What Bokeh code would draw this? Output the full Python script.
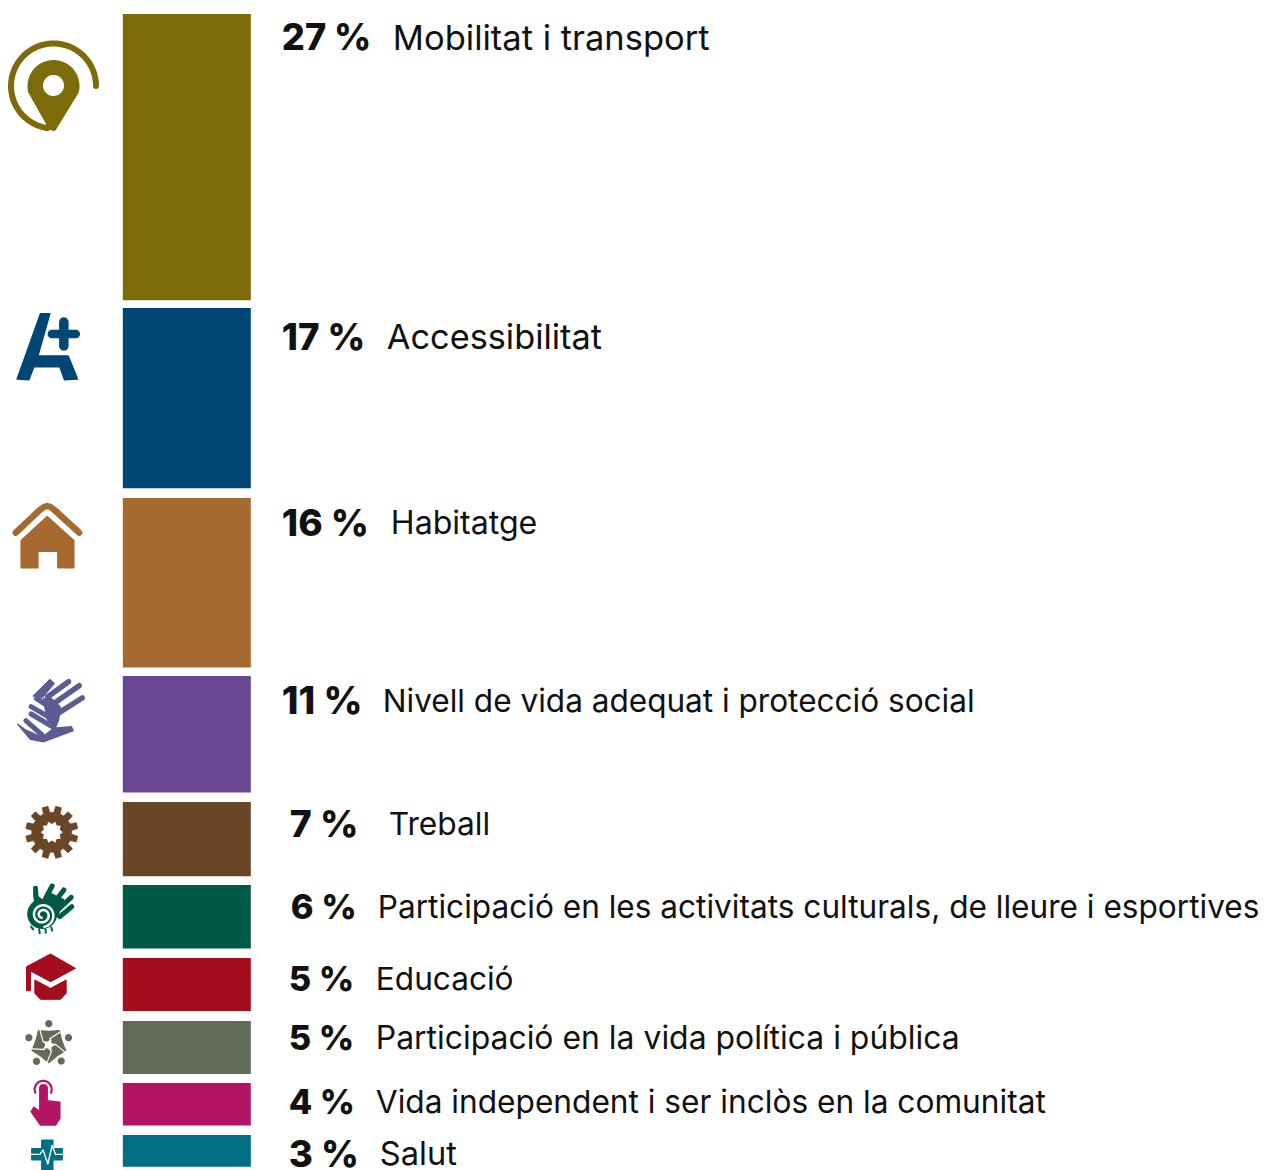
import numpy as np
from bokeh.plotting import figure
from bokeh.models import Range1d
from bokeh.core.properties import value
from bokeh.embed import file_html
from bokeh.resources import INLINE

# ---- data ----
categories = ["Mobilitat i transport", "Accessibilitat", "Habitatge",
              "Nivell de vida adequat i protecció social", "Treball",
              "Participació en les activitats culturals, de lleure i esportives",
              "Educació", "Participació en la vida política i pública",
              "Vida independent i ser inclòs en la comunitat", "Salut"]
percent = [27, 17, 16, 11, 7, 6, 5, 5, 4, 3]
colors = ["#7C6B08", "#004675", "#A66A30", "#6A4792", "#684626",
          "#005847", "#A30D1E", "#646A58", "#B31564", "#006F84"]

# ---- layout (pixels of the picture) ----
W, H = 1270, 1170
PX_PER_PCT = 10.6
BAR_TOP = [14, 308, 498, 676, 802, 885, 958, 1021, 1083, 1135]
BAR_L, BAR_R = 123, 251
PCT_X = [282, 282, 282, 282, 290, 291, 289, 289, 289, 289]
LAB_X = [393, 387, 391, 383, 389, 378, 376, 376, 376, 380]
BASE_Y = [50, 349, 535, 713, 836, 919, 991, 1050, 1114, 1166]
TEXT_DY = -13
PCT_SIZE = [36.2, 36.7, 37, 37.9, 37.4, 34.5, 34.5, 34.5, 34.2, 36.8]
LAB_SIZE = [34.5, 34.3, 32.1, 31.55, 31.7, 31.6, 31.6, 31.9, 31.65, 32.6]
FONT = "Inter"
IDX = 0.7  # icons' small horizontal nudge

p = figure(width=W, height=H, output_backend="svg", toolbar_location=None,
           x_range=Range1d(0.7, W + 0.7), y_range=Range1d(H + 0.5, 0.5),
           min_border=0, outline_line_color=None, background_fill_color="white")
p.axis.visible = False
p.grid.visible = False

# bars
bottoms = [t + v * PX_PER_PCT for t, v in zip(BAR_TOP, percent)]
p.quad(left=BAR_L, right=BAR_R, top=BAR_TOP, bottom=bottoms, fill_color=colors, line_color=None)

# texts
for i, v in enumerate(percent):
    p.text(x=[PCT_X[i]], y=[BASE_Y[i] + TEXT_DY], text=[f"{v} %"], text_font=value("Inter ExtraBold"),
           text_font_size=f"{PCT_SIZE[i]}px", text_font_style="bold", text_color="#111111",
           text_baseline="alphabetic", text_align="left")
    p.text(x=[LAB_X[i]], y=[BASE_Y[i] + TEXT_DY], text=[categories[i]], text_font=value(FONT),
           text_font_size=f"{LAB_SIZE[i]}px", text_font_style="normal", text_color="#111111",
           text_baseline="alphabetic", text_align="left")


def Z(pts, oy=0):
    a = np.array(pts, dtype=float) / 3
    return list(a[:, 0] + IDX), list(a[:, 1] + oy)


def poly(pts, c, oy=0, lw=1.5):
    xs, ys = Z(pts, oy)
    p.patch(xs, ys, fill_color=c, line_color=c, line_width=lw, line_join="round")


def stroke(pts, c, w, oy=0):
    xs, ys = Z(pts, oy)
    p.line(xs, ys, line_color=c, line_width=w, line_cap="round", line_join="round")


def disc(cx, cy, r, c):
    t = np.linspace(0, 2 * np.pi, 60)
    p.patch(list(cx + IDX + r * np.cos(t)), list(cy + r * np.sin(t)), fill_color=c, line_color=None)


# 1 pin
c = colors[0]
t = np.radians(np.linspace(0, 262, 80))
p.line(list(53 + IDX + 42.5 * np.cos(t)), list(86 - 42.5 * np.sin(t)),
       line_color=c, line_width=6, line_cap="round")
t = np.radians(np.linspace(165, 375, 50))
px = list(53 + IDX + 26 * np.cos(t)) + [55 + IDX, 53 + IDX, 47 + IDX, 45 + IDX]
py = list(86 + 26 * np.sin(t)) + [130.5, 131, 129, 123]
p.patch(px, py, fill_color=c, line_color=None)
disc(53, 85.5, 10.5, "white")

# 2 A+
c = colors[1]
poly([(120, 941), (148, 941), (112, 1068), (203, 1068), (231, 1137), (192, 1139), (178, 1100),
      (100, 1100), (85, 1139), (50, 1137)], c)
stroke([(154, 1002), (226, 1002)], c, 8.5)
stroke([(190, 966), (190, 1038)], c, 9.5)

# 3 house
c = colors[2]
stroke([(46, 128), (118, 60), (130, 51), (140, 48), (150, 51), (162, 60), (236, 128)], c, 6.5, 490)
poly([(62, 152), (140, 80), (220, 152), (220, 233), (172, 233), (172, 184), (112, 184), (112, 233), (62, 233)], c, 490)

# 4 hands
c = "#5E5A94"
poly([(97, 618), (148, 568), (162, 580), (125, 625)], c, 490, 1)
stroke([(142, 620), (204, 575)], c, 5.5, 490)
stroke([(158, 642), (236, 587)], c, 5.5, 490)
stroke([(176, 668), (245, 624)], c, 5.5, 490)
poly([(128, 626), (150, 622), (180, 650), (175, 690), (165, 715), (140, 690)], c, 490, 1)
for a in [[(108, 626), (160, 660)], [(92, 650), (160, 690)], [(92, 672), (155, 710)], [(76, 692), (125, 735)]]:
    stroke(a, c, 5, 490)
poly([(52, 703), (75, 720), (125, 742), (160, 715), (212, 710), (218, 722), (130, 755), (90, 748)], c, 490)

# 5 gear
c = colors[4]
n = 12
offs = np.radians(np.array([-6.5, 6.5, 9.5, 20.5]))
ang = np.concatenate([k * 2 * np.pi / n + offs for k in range(n)]) + np.radians(-15)
rad = np.tile([26.3, 26.3, 20, 20], n)
p.patch(list(51.3 + IDX + rad * np.cos(ang)), list(832.3 + rad * np.sin(ang)), fill_color=c,
        line_color=c, line_width=0.7, line_join="round")
ang = np.linspace(0, 2 * np.pi, 21)[:-1]
rad = np.tile([11, 8.3], 10)
p.patch(list(51.3 + IDX + rad * np.cos(ang)), list(832.3 + rad * np.sin(ang)), fill_color="white", line_color=None)

# 6 spiral hand
c = colors[5]
disc(41.7, 914, 15, c)
for a in [[(108, 100), (105, 55)], [(135, 85), (155, 48)], [(160, 100), (190, 60)], [(172, 120), (212, 82)], [(178, 140), (214, 110)]]:
    stroke(a, c, 5, 870)
poly([(100, 70), (108, 118), (170, 140), (190, 90), (150, 70), (125, 90)], c, 870)
th = np.linspace(0, 4 * np.pi, 90)
rr = 2.5 + 9.5 * th / th.max()
p.line(list(42 + IDX + rr * np.cos(th + 1.5)), list(915 + rr * np.sin(th + 1.5)), line_color="white", line_width=2.5)
for a in [[(92, 170), (98, 178)], [(116, 178), (118, 190)], [(135, 178), (136, 188)], [(152, 172), (155, 182)]]:
    stroke(a, c, 2, 870)

# 7 cap
c = colors[6]
poly([(150, 252), (225, 295), (150, 335), (90, 303), (90, 362), (78, 362), (78, 290)], c, 870, 1)
poly([(103, 330), (150, 355), (197, 330), (197, 370), (180, 388), (120, 388), (103, 370)], c, 870, 1)

# 8 people
c = colors[7]
cx, cy = 145 / 3 + IDX, 525 / 3 + 870
for x0, y0 in [(145, 461), (204, 503), (182, 573), (108, 574), (85, 503)]:
    disc(x0 / 3, y0 / 3 + 870, 3.6, c)
a0 = np.radians(np.arange(0, 360, 36) - 90)
rad = np.tile([13.5, 17.5], 5)
p.patch(list(cx + rad * np.cos(a0)), list(cy + rad * np.sin(a0)), fill_color=c, line_color=c,
        line_width=1.5, line_join="round")
rad = np.tile([7, 3.5], 5)
a1 = a0 + np.radians(18)
p.patch(list(cx + rad * np.cos(a1)), list(cy + rad * np.sin(a1)), fill_color="white", line_color=None)
for k in range(5):
    a = np.radians(-90 + 72 * k + 5)
    b = a + np.radians(38)
    p.line([cx + 6 * np.cos(a), cx + 19 * np.cos(b)], [cy + 6 * np.sin(a), cy + 19 * np.sin(b)],
           line_color="white", line_width=1.2)

# 9 touch
c = colors[8]
t = np.radians(np.linspace(-30, 210, 50))
p.line(list(128 / 3 + IDX + 8.5 * np.cos(t)), list(658 / 3 + 870 - 8.5 * np.sin(t)), line_color=c, line_width=2.2)
disc(128 / 3, 655 / 3 + 870, 5.6, "white")
poly([(118, 652), (122, 645), (136, 645), (140, 652), (140, 692), (178, 697), (178, 745), (165, 765),
      (120, 765), (92, 725), (100, 712), (118, 725)], c, 870)

# 10 cross
c = colors[9]
poly([(124, 811), (157, 811), (157, 836), (185, 836), (185, 869), (157, 869), (157, 899), (124, 899),
      (124, 869), (94, 869), (94, 836), (124, 836)], c, 870)
stroke([(90, 853), (118, 853), (128, 840), (142, 882), (155, 826), (165, 853), (190, 853)], "white", 1.4, 870)

open("out.html", "w").write(file_html(p, INLINE))
